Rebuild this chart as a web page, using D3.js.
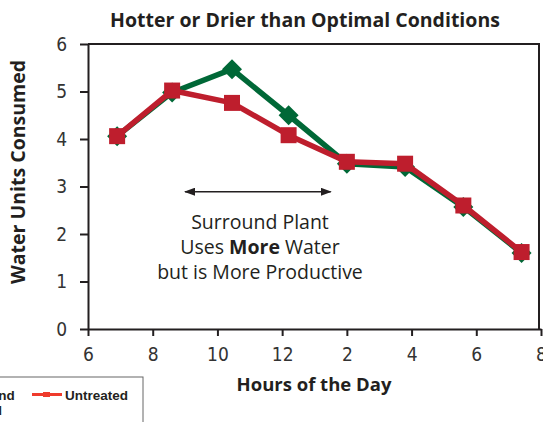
<!DOCTYPE html>
<html>
<head>
<meta charset="utf-8">
<script src="https://cdnjs.cloudflare.com/ajax/libs/d3/7.8.5/d3.min.js"></script>
<style>
  body { margin: 0; background: #fff; }
  svg { display: block; }
</style>
</head>
<body>
<div class="container"></div>
<script>
var hours = [6.9, 8.6, 10.45, 12.2, 14.0, 15.8, 17.6, 19.4];
var surroundTreated = [4.06, 4.98, 5.47, 4.5, 3.48, 3.41, 2.57, 1.6];
var untreated = [4.06, 5.02, 4.76, 4.08, 3.52, 3.48, 2.6, 1.62];
var xTicks = [6, 8, 10, 12, 14, 16, 18, 20];
var yTicks = [0, 1, 2, 3, 4, 5, 6];

var w = 543,
h = 422,
mLeft = 88, mRight = 541, mTop = 44, mBottom = 329;

var green = '#006837', red = '#be1e2d', ink = '#231f20';

var svg = d3.select('.container')
.append('svg')
.attr('width', w)
.attr('height', h);

var xScale = d3.scaleLinear()
.domain([6, 20])
.range([mLeft, mRight]);

var yScale = d3.scaleLinear()
.domain([0, 6])
.range([mBottom, mTop]);

// title
svg.append('text')
.attr('x', 305)
.attr('y', 27)
.attr('text-anchor', 'middle')
.style('font-family', 'Open Sans')
.style('font-weight', 700)
.style('font-size', '19.5px')
.style('fill', ink)
.text('Hotter or Drier than Optimal Conditions');

// frame top + right
svg.append('path')
.attr('d', 'M' + mLeft + ',' + mTop + 'H' + (mRight - 2) + 'V' + mBottom)
.attr('fill', 'none')
.attr('stroke', ink)
.attr('stroke-width', 2);

var xAxis = d3.axisBottom(xScale)
.tickValues(xTicks)
.tickSize(7)
.tickPadding(12)
.tickSizeOuter(0)
.tickFormat(d => ((d - 1) % 12) + 1);

var yAxis = d3.axisLeft(yScale)
.tickValues(yTicks)
.tickSize(8)
.tickPadding(13)
.tickSizeOuter(0)
.tickFormat(d3.format('d'));

[svg.append('g').attr('transform', 'translate(0,' + mBottom + ')').call(xAxis),
 svg.append('g').attr('transform', 'translate(' + mLeft + ',0)').call(yAxis)]
.forEach(function(g) {
  g.select('.domain').attr('stroke', ink).attr('stroke-width', 2);
  g.selectAll('.tick line').attr('stroke', ink).attr('stroke-width', 2);
  g.selectAll('.tick text')
  .style('font-family', '"Liberation Sans Narrow", "DejaVu Sans Condensed", sans-serif')
  .style('font-size', '19px')
  .style('fill', '#333');
});

// axis titles
svg.append('text')
.attr('transform', 'rotate(-90)')
.attr('x', -172)
.attr('y', 25)
.attr('text-anchor', 'middle')
.style('font-family', 'Open Sans')
.style('font-weight', 700)
.style('font-size', '19.5px')
.style('fill', ink)
.text('Water Units Consumed');

svg.append('text')
.attr('x', 314)
.attr('y', 391)
.attr('text-anchor', 'middle')
.style('font-family', 'Open Sans')
.style('font-weight', 700)
.style('font-size', '18.5px')
.style('fill', ink)
.text('Hours of the Day');

// annotation arrow
var defs = svg.append('defs');
defs.append('marker')
.attr('id', 'arrow')
.attr('viewBox', '0 0 10 10')
.attr('refX', 9)
.attr('refY', 5)
.attr('markerWidth', 11)
.attr('markerHeight', 8)
.attr('markerUnits', 'userSpaceOnUse')
.attr('orient', 'auto-start-reverse')
.attr('preserveAspectRatio', 'none')
.append('path')
.attr('d', 'M0,0L10,5L0,10Z')
.attr('fill', ink);

svg.append('line')
.attr('x1', xScale(9.0))
.attr('x2', xScale(13.5))
.attr('y1', yScale(2.89))
.attr('y2', yScale(2.89))
.attr('stroke', ink)
.attr('stroke-width', 1.5)
.attr('marker-start', 'url(#arrow)')
.attr('marker-end', 'url(#arrow)');

var note = svg.append('text')
.attr('text-anchor', 'middle')
.style('font-family', 'Open Sans')
.style('font-size', '19.5px')
.style('fill', ink);
note.append('tspan').attr('x', 260).attr('y', 229).text('Surround Plant');
var l2 = note.append('tspan').attr('x', 260).attr('y', 254);
l2.append('tspan').text('Uses ');
l2.append('tspan').style('font-weight', 700).text('More');
l2.append('tspan').text(' Water');
note.append('tspan').attr('x', 260).attr('y', 279).text('but is More Productive');

// lines
var line = d3.line()
.x((d, i) => xScale(hours[i]))
.y(d => yScale(d));

svg.append('path')
.datum(surroundTreated)
.attr('d', line)
.attr('fill', 'none')
.attr('stroke', green)
.attr('stroke-width', 5.5)
.attr('stroke-linejoin', 'round');

svg.selectAll('.diamond')
.data(surroundTreated)
.enter()
.append('path')
.attr('class', 'diamond')
.attr('d', d3.symbol().type(d3.symbolSquare).size(200))
.attr('transform', (d, i) => 'translate(' + xScale(hours[i]) + ',' + yScale(d) + ') rotate(45)')
.attr('fill', green);

svg.append('path')
.datum(untreated)
.attr('d', line)
.attr('fill', 'none')
.attr('stroke', red)
.attr('stroke-width', 5.5)
.attr('stroke-linejoin', 'round');

svg.selectAll('.square')
.data(untreated)
.enter()
.append('rect')
.attr('class', 'square')
.attr('x', (d, i) => xScale(hours[i]) - 8)
.attr('y', d => yScale(d) - 8)
.attr('width', 16)
.attr('height', 16)
.attr('fill', red);

// legend (cut off at the left edge)
var legend = svg.append('g');
legend.append('rect')
.attr('x', -80)
.attr('y', 377)
.attr('width', 223)
.attr('height', 80)
.attr('fill', 'none')
.attr('stroke', '#666')
.attr('stroke-width', 1);

var legText = legend.append('text')
.style('font-family', '"Liberation Sans", Arial, sans-serif')
.style('font-weight', 700)
.style('font-size', '13.5px')
.style('fill', ink);
legText.append('tspan').attr('x', -46).attr('y', 400).text('Surround');
legText.append('tspan').attr('x', -46).attr('y', 415).text('Treated');

legend.append('line')
.attr('x1', 32).attr('x2', 62)
.attr('y1', 394.5).attr('y2', 394.5)
.attr('stroke', '#ef3b2c')
.attr('stroke-width', 3);
legend.append('rect')
.attr('x', 43).attr('y', 392)
.attr('width', 7).attr('height', 5)
.attr('fill', '#ef3b2c');
legend.append('text')
.attr('x', 65)
.attr('y', 400)
.style('font-family', '"Liberation Sans", Arial, sans-serif')
.style('font-weight', 700)
.style('font-size', '13.5px')
.style('fill', ink)
.text('Untreated');
</script>
</body>
</html>
